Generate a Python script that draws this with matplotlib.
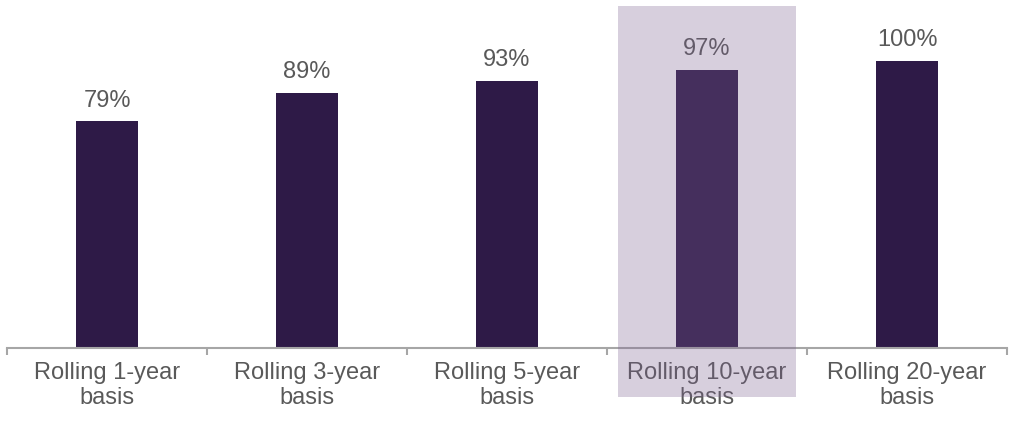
import matplotlib
matplotlib.use("Agg")
import matplotlib.pyplot as plt
from matplotlib.patches import Rectangle

categories = ["Rolling 1-year\nbasis", "Rolling 3-year\nbasis", "Rolling 5-year\nbasis",
              "Rolling 10-year\nbasis", "Rolling 20-year\nbasis"]
values = [79, 89, 93, 97, 100]
highlight_index = 3

bar_color = "#2e1a47"
text_color = "#595959"
axis_color = "#a6a6a6"

plt.rcParams["font.family"] = ["Liberation Sans", "DejaVu Sans"]

fig = plt.figure(figsize=(10.13, 4.25), dpi=100)
ax = fig.add_axes([7 / 1013, 77 / 425, 1000 / 1013, 344.4 / 425])

x = list(range(len(categories)))
ax.bar(x, values, width=0.31, color=bar_color, zorder=2)

for xi, v in zip(x, values):
    ax.annotate(f"{v}%", (xi, v), xytext=(0, 7), textcoords="offset points",
                ha="center", va="bottom", fontsize=17, color=text_color)

ax.set_xlim(-0.5, len(categories) - 0.5)
ax.set_ylim(0, 120)
ax.set_yticks([])
for side in ("top", "right", "left"):
    ax.spines[side].set_visible(False)
ax.spines["bottom"].set_color(axis_color)
ax.spines["bottom"].set_linewidth(1.5)

ax.set_xticks(x)
ax.set_xticklabels(categories, fontsize=17, color=text_color, linespacing=1.2)
ax.tick_params(axis="x", which="major", length=0, pad=10)
ax.set_xticks([i - 0.5 for i in range(len(categories) + 1)], minor=True)
ax.tick_params(axis="x", which="minor", length=5, width=1.5, color=axis_color)

# translucent band emphasising one category
y0 = 1 - 397 / 425
y1 = 1 - 6 / 425
fig_trans = matplotlib.transforms.blended_transform_factory(ax.transData, fig.transFigure)
band = Rectangle((highlight_index - 0.445, y0), 0.89, y1 - y0, transform=fig_trans,
                 facecolor="#7d6291", alpha=0.3, edgecolor="none", zorder=5, clip_on=False)
fig.add_artist(band)

fig.savefig("out.png", dpi=100)
